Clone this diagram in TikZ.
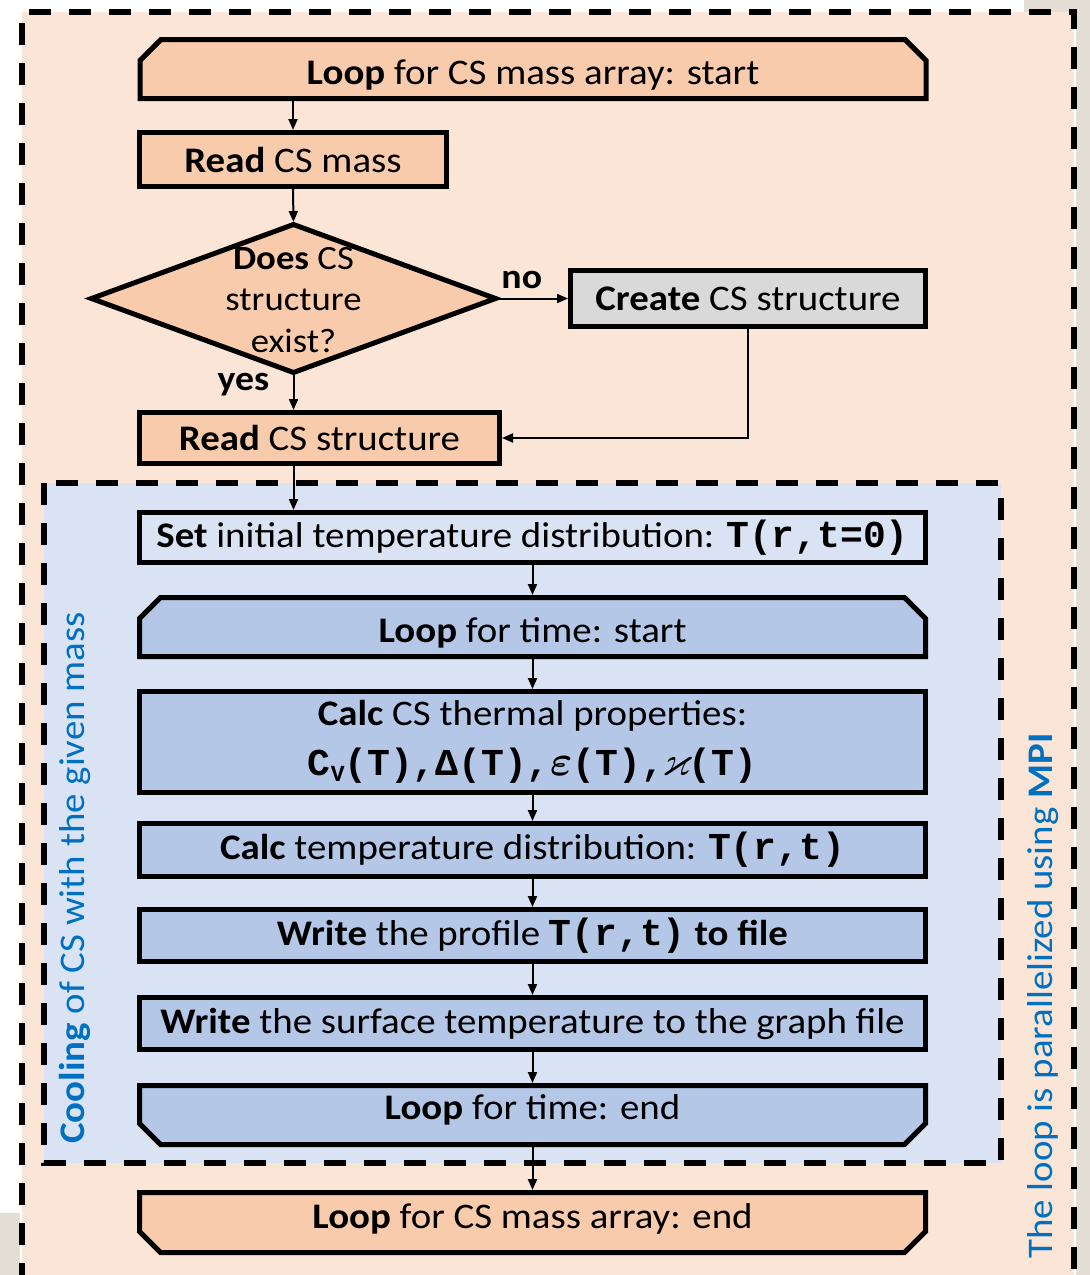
\documentclass[tikz,border=0pt]{standalone}
\usepackage{amsmath,amssymb}
\usepackage{graphicx}
\usepackage{fontspec}
\setmainfont{Carlito}[FakeStretch=1.08]
\newfontfamily\monof{Liberation Mono}
\usetikzlibrary{arrows.meta,shapes.geometric}
\definecolor{orgbg}{HTML}{FBE5D6}
\definecolor{orgbox}{HTML}{F8CBAD}
\definecolor{bluebg}{HTML}{DAE3F3}
\definecolor{bluebox}{HTML}{B4C7E7}
\definecolor{graybox}{HTML}{D9D9D9}
\definecolor{graybg}{HTML}{E3DED4}
\definecolor{bluetxt}{HTML}{0070C0}
\pgfdeclarelayer{back}
\pgfdeclarelayer{mid}
\pgfsetlayers{back,mid,main}
\newcommand\boxfont{\fontsize{36}{44}\selectfont}
\newcommand\mono[1]{{\monof\bfseries\fontsize{38}{44}\selectfont #1}}
\newcommand\gbox[2]{\makebox[22.8pt]{\scalebox{#1}{$\boldsymbol{#2}$}}}
\newcommand\chamtop[2]{\begin{pgfonlayer}{mid}\draw[chamline,fill=#2] (#1.south west) -- ([yshift=-21pt]#1.north west) -- ([xshift=21pt]#1.north west) -- ([xshift=-21pt]#1.north east) -- ([yshift=-21pt]#1.north east) -- (#1.south east) -- cycle;\end{pgfonlayer}}
\newcommand\chambot[2]{\begin{pgfonlayer}{mid}\draw[chamline,fill=#2] (#1.north west) -- ([yshift=21pt]#1.south west) -- ([xshift=21pt]#1.south west) -- ([xshift=-21pt]#1.south east) -- ([yshift=21pt]#1.south east) -- (#1.north east) -- cycle;\end{pgfonlayer}}
\begin{document}
\begin{tikzpicture}[x=1pt,y=-1pt,
  box/.style={draw, line width=5pt, rectangle, inner sep=0pt, outer sep=0pt, font=\boxfont, align=center, minimum width=786pt},
  chambox/.style={rectangle, inner sep=0pt, outer sep=0pt, font=\boxfont, align=center, minimum width=786pt},
  chamline/.style={line width=5pt, line join=miter},
  arr/.style={line width=2pt, -{Triangle[length=11pt,width=9pt]}, shorten <=2.5pt, shorten >=2.5pt},
  dashline/.style={line width=5.5pt, dash pattern=on 22pt off 18pt},
  lbl/.style={font=\bfseries\fontsize{35}{40}\selectfont},
  side/.style={text=bluetxt, font=\fontsize{36}{42}\selectfont, rotate=90}]
\useasboundingbox (0,0) rectangle (1090,1275);
\begin{pgfonlayer}{back}
\fill[white] (0,0) rectangle (1090,1275);
\fill[graybg] (1076,0) rectangle (1090,1275);
\fill[graybg] (1024,0) rectangle (1090,12);
\fill[graybg] (0,1213) rectangle (20,1275);
\fill[orgbg] (22,12) rectangle (1074,1275);
\draw[dashline] (22,1285) -- (22,12) -- (1074,12) -- (1074,1285);
\fill[bluebg] (44,483) rectangle (1001,1163);
\draw[dashline] (44,483) rectangle (1001,1163);
\end{pgfonlayer}

% nodes
\node[chambox, minimum height=59pt, label={[font=\boxfont, yshift=-6pt]center:{\textbf{Loop} for CS mass array: start}}] (lms) at (533,69) {};
\chamtop{lms}{orgbox}
\node[box, fill=orgbox, minimum width=307pt, minimum height=54pt] (rcm) at (293,159.5) {\textbf{Read} CS mass};
\node[draw, diamond, line width=5pt, fill=orgbox, inner sep=0pt, outer sep=0pt, minimum width=404pt, minimum height=148pt] (dia) at (293.5,298.5) {};
\node[font=\fontsize{34}{41.5}\selectfont, align=center] (diat) at (293.5,300) {\textbf{Does} CS\\structure\\exist?};
\node[box, fill=graybox, minimum width=355pt, minimum height=56pt] (create) at (748,298.5) {\textbf{Create} CS structure};
\node[box, fill=orgbox, minimum width=360pt, minimum height=51pt] (rcs) at (319.5,438) {\textbf{Read} CS structure};

\node[box, fill=bluebg, minimum height=50pt] (set) at (532.5,537.5) {\textbf{Set} initial temperature distribution: \mono{T(r,t=0)}};
\node[chambox, minimum height=59pt, label={[font=\boxfont, yshift=-6pt]center:{\textbf{Loop} for time: start}}] (lts) at (532.5,627) {};
\chamtop{lts}{bluebox}
\node[box, fill=bluebox, minimum height=101pt, font=\fontsize{36}{50}\selectfont] (cth) at (532.5,742) {\textbf{Calc} CS thermal properties:\\\mono{C\raisebox{-6pt}{\fontsize{23}{23}\selectfont V}(T),Δ(T),\gbox{1.7}{\varepsilon}(T),\hspace{2pt}\gbox{1.1}{\varkappa}(T)}};
\node[box, fill=bluebox, minimum height=53pt] (ctd) at (532.5,850) {\textbf{Calc} temperature distribution: \mono{T(r,t)}};
\node[box, fill=bluebox, minimum height=52pt] (wp) at (532.5,935.5) {\textbf{Write} the profile \mono{T(r,t)} \textbf{to file}};
\node[box, fill=bluebox, minimum height=52pt] (ws) at (532.5,1023.5) {\textbf{Write} the surface temperature to the graph file};
\node[chambox, minimum height=59pt, label={[font=\boxfont, yshift=5pt]center:{\textbf{Loop} for time: end}}] (lte) at (532.5,1115) {};
\chambot{lte}{bluebox}
\node[chambox, minimum height=60pt, label={[font=\boxfont, yshift=4pt]center:{\textbf{Loop} for CS mass array: end}}] (lme) at (532.5,1222.5) {};
\chambot{lme}{orgbox}

% side labels
\node[side] (cool) at (75,878) {\textbf{Cooling} of CS with the given mass};
\node[side] (mpi) at (1043,996) {The loop is parallelized using \textbf{MPI}};

% connectors
\draw[arr] (lms.south -| rcm.north) -- (rcm.north);
\draw[arr] (rcm.south) -- (dia.north);
\draw[arr] (dia.east) -- node[lbl, above=5pt, pos=0.35] {no} (create.west);
\draw[arr] (dia.south) -- node[lbl, left=20pt, pos=0.3] {yes} (dia.south |- rcs.north);
\draw[arr] (create.south) |- (rcs.east);
\draw[arr] (rcs.south -| dia.south) -- (set.north -| dia.south);
\draw[arr] (set) -- (lts);
\draw[arr] (lts) -- (cth);
\draw[arr] (cth) -- (ctd);
\draw[arr] (ctd) -- (wp);
\draw[arr] (wp) -- (ws);
\draw[arr] (ws) -- (lte);
\draw[arr] (lte) -- (lme);
\end{tikzpicture}
\end{document}
